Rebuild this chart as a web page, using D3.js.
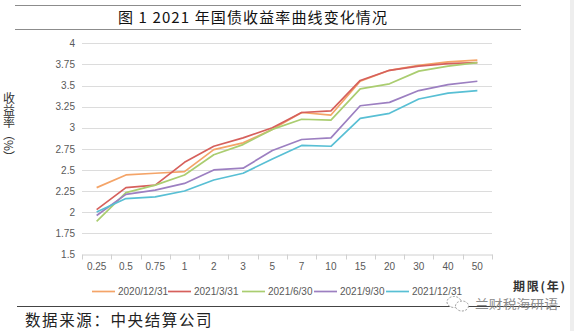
<!DOCTYPE html>
<html>
<head>
<meta charset="utf-8">
<script src="https://cdn.jsdelivr.net/npm/d3@7"></script>
<style>
  html, body { margin: 0; padding: 0; background: #fff; }
  svg { display: block; }
</style>
</head>
<body>
<svg id="chart" width="574" height="331"></svg>
<script>
// Treasury yield curve, 2021 (tenor in years, yield in %)
const tenors = ["0.25", "0.5", "0.75", "1", "2", "3", "5", "7", "10", "15", "20", "30", "40", "50"];
const seriesNames = ["2020/12/31", "2021/3/31", "2021/6/30", "2021/9/30", "2021/12/31"];
const y20201231 = [2.29, 2.44, 2.46, 2.48, 2.74, 2.82, 2.98, 3.18, 3.15, 3.55, 3.68, 3.74, 3.78, 3.80];
const y20210331 = [2.03, 2.29, 2.32, 2.59, 2.78, 2.88, 3.00, 3.18, 3.20, 3.56, 3.68, 3.73, 3.76, 3.77];
const y20210630 = [1.89, 2.23, 2.32, 2.44, 2.68, 2.80, 2.98, 3.10, 3.09, 3.46, 3.52, 3.67, 3.73, 3.77];
const y20210930 = [1.96, 2.21, 2.26, 2.34, 2.50, 2.52, 2.73, 2.86, 2.88, 3.26, 3.30, 3.44, 3.51, 3.55];
const y20211231 = [2.00, 2.16, 2.18, 2.25, 2.38, 2.46, 2.63, 2.79, 2.78, 3.11, 3.17, 3.34, 3.41, 3.44];
const yTicks = [1.5, 1.75, 2, 2.25, 2.5, 2.75, 3, 3.25, 3.5, 3.75, 4];

const seriesValues = [y20201231, y20210331, y20210630, y20210930, y20211231];
const colors = ["#F4A468", "#D6605C", "#AACD70", "#9C7FC1", "#58BFD4"];

const svg = d3.select("#chart");
const sans = "'Liberation Sans', 'Noto Sans', sans-serif";
const cjk = "'Noto Sans CJK SC', sans-serif";

// light strip at right edge
svg.append("rect").attr("x", 570).attr("y", 0).attr("width", 4).attr("height", 331).attr("fill", "#eeeeee");

// title with rules above and below
svg.append("line").attr("x1", 15).attr("x2", 521).attr("y1", 5.5).attr("y2", 5.5).attr("stroke", "#8c8c8c").attr("stroke-width", 1);
svg.append("line").attr("x1", 15).attr("x2", 521).attr("y1", 29.5).attr("y2", 29.5).attr("stroke", "#8c8c8c").attr("stroke-width", 1);
svg.append("text")
  .attr("x", 118).attr("y", 23)
  .attr("textLength", 269).attr("lengthAdjust", "spacing")
  .style("font-family", cjk).style("font-size", "15px").style("font-weight", 400)
  .attr("fill", "#111")
  .text("图 1 2021 年国债收益率曲线变化情况");

// scales
const x = d3.scaleBand().domain(tenors).range([82, 492]).padding(0);
const y = d3.scaleLinear().domain([1.5, 4]).range([254.3, 43.3]);
const cx = t => x(t) + x.bandwidth() / 2;

// horizontal gridlines
svg.append("g").selectAll("line").data(yTicks.slice(1)).join("line")
  .attr("x1", 82).attr("x2", 492)
  .attr("y1", d => Math.round(y(d)) + 0.5).attr("y2", d => Math.round(y(d)) + 0.5)
  .attr("stroke", "#dcdcdc").attr("stroke-width", 1);

// y axis labels
const yAxis = d3.axisLeft(y).tickValues(yTicks).tickSize(0).tickPadding(0)
  .tickFormat(d => String(d));
const gy = svg.append("g").attr("transform", "translate(75,0)").call(yAxis);
gy.select(".domain").remove();
gy.selectAll("text").style("font-family", sans).style("font-size", "10px").attr("fill", "#595959");

// x axis with ticks at category boundaries
const xAxis = d3.axisBottom(x).tickSize(0).tickPadding(8);
const gx = svg.append("g").attr("transform", `translate(0,${Math.round(y(1.5)) + 0.5})`).call(xAxis);
gx.select(".domain").attr("stroke", "#d0d0d0");
gx.selectAll("text").style("font-family", sans).style("font-size", "10px").attr("fill", "#595959");
const bounds = tenors.map(t => x(t)).concat([x(tenors[tenors.length - 1]) + x.bandwidth()]);
gx.append("g").selectAll("line").data(bounds).join("line")
  .attr("x1", d => Math.round(d) + 0.5).attr("x2", d => Math.round(d) + 0.5)
  .attr("y1", 0).attr("y2", 5)
  .attr("stroke", "#d0d0d0");

// series lines
const line = d3.line().x((d, i) => cx(tenors[i])).y(d => y(d));
svg.append("g").selectAll("path").data(seriesValues).join("path")
  .attr("d", d => line(d))
  .attr("fill", "none")
  .attr("stroke", (d, i) => colors[i])
  .attr("stroke-width", 1.7)
  .attr("stroke-linejoin", "round");

// y axis title, vertical text
svg.append("text")
  .attr("x", 9).attr("y", 92)
  .attr("writing-mode", "tb")
  .style("writing-mode", "vertical-rl")
  .style("font-family", cjk).style("font-size", "12px")
  .attr("fill", "#333")
  .text("收益率（%）");

// legend
const legendX = [92, 168, 242, 314, 386];
const lg = svg.append("g").selectAll("g").data(seriesNames).join("g")
  .attr("transform", (d, i) => `translate(${legendX[i]},291.5)`);
lg.append("line").attr("x1", 0).attr("x2", 23).attr("y1", 0).attr("y2", 0)
  .attr("stroke", (d, i) => colors[i]).attr("stroke-width", 1.7);
lg.append("text").attr("x", 26).attr("y", 3.6)
  .style("font-family", sans).style("font-size", "10px").attr("fill", "#595959")
  .text(d => d);

// x axis title
svg.append("text")
  .attr("x", 513).attr("y", 291)
  .attr("textLength", 52).attr("lengthAdjust", "spacing")
  .style("font-family", cjk).style("font-size", "12px").style("font-weight", 700)
  .attr("fill", "#333")
  .text("期限(年)");

// footer rule and source
svg.append("line").attr("x1", 17).attr("x2", 560).attr("y1", 306.5).attr("y2", 306.5)
  .attr("stroke", "#444").attr("stroke-width", 1);
svg.append("text")
  .attr("x", 25).attr("y", 326)
  .style("font-family", cjk).style("font-size", "15.5px").style("letter-spacing", "1.6px")
  .attr("fill", "#222")
  .text("数据来源：中央结算公司");

// account mark
const mark = svg.append("g").attr("transform", "translate(447,302)");
mark.append("ellipse").attr("cx", 7).attr("cy", 0).attr("rx", 7).attr("ry", 5.5)
  .attr("fill", "#fff").attr("stroke", "#999").attr("stroke-width", 1).attr("stroke-dasharray", "2,1.5");
mark.append("ellipse").attr("cx", 15).attr("cy", 4).attr("rx", 6.5).attr("ry", 5)
  .attr("fill", "#fff").attr("stroke", "#999").attr("stroke-width", 1).attr("stroke-dasharray", "2,1.5");
svg.append("text")
  .attr("x", 475).attr("y", 309)
  .attr("textLength", 83).attr("lengthAdjust", "spacingAndGlyphs")
  .style("font-family", cjk).style("font-size", "12.5px")
  .attr("fill", "#8a8a8a")
  .text("兰财税海研语");
</script>
</body>
</html>
